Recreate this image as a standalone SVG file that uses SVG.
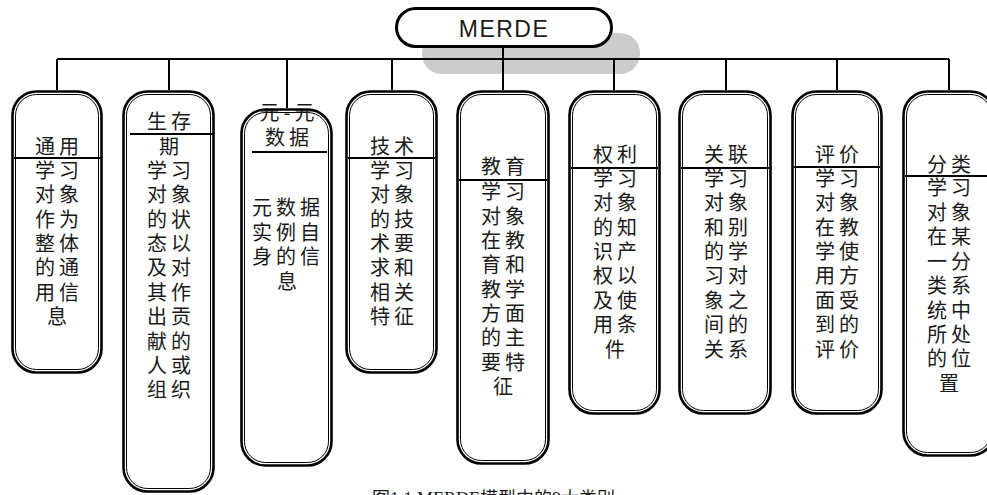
<svg xmlns="http://www.w3.org/2000/svg" width="987" height="495" viewBox="0 0 987 495">
<style>
.o{fill:#fff;stroke:#000;stroke-width:2.6}
.i{fill:none;stroke:#000;stroke-width:1}
.d{stroke:#000;stroke-width:2}
.c{stroke:#000;stroke-width:2;fill:none}
.t{font-family:"Noto Sans CJK SC","Noto Sans",sans-serif;font-size:20px;letter-spacing:4px;fill:#1a1a1a;text-anchor:middle}
</style>
<rect width="987" height="495" fill="#fff"/>
<g id="merde">
<rect x="422" y="33" width="218" height="41" rx="20" fill="#cccccc"/>
<rect x="396.5" y="8.5" width="215" height="38" rx="19" fill="#fff" stroke="#000" stroke-width="3"/>
<text x="504" y="37" font-family="Liberation Sans, Arial, sans-serif" font-size="23" letter-spacing="1.5" text-anchor="middle" fill="#1a1a1a">MERDE</text>
</g>
<g id="connectors" class="c">
<line x1="503" y1="46" x2="503" y2="90"/>
<line x1="57" y1="59" x2="949" y2="59"/>
<line x1="57" y1="59" x2="57" y2="90"/>
<line x1="169" y1="59" x2="169" y2="90"/>
<line x1="287" y1="59" x2="287" y2="108"/>
<line x1="392" y1="59" x2="392" y2="90"/>
<line x1="614" y1="59" x2="614" y2="90"/>
<line x1="726" y1="59" x2="726" y2="90"/>
<line x1="837" y1="59" x2="837" y2="90"/>
<line x1="949" y1="59" x2="949" y2="90"/>
</g>
<g id="box1">
<rect class="o" x="12.5" y="91.5" width="89" height="281" rx="24"/>
<rect class="i" x="15.5" y="94.5" width="83" height="275" rx="21"/>
<line class="d" x1="14" y1="158" x2="101" y2="158"/>
<text class="t" x="59" y="154">通用</text>
<text class="t" x="59" y="178">学习</text>
<text class="t" x="59" y="202">对象</text>
<text class="t" x="59" y="227">作为</text>
<text class="t" x="59" y="251">整体</text>
<text class="t" x="59" y="275">的通</text>
<text class="t" x="59" y="300">用信</text>
<text class="t" x="59" y="324">息</text>
</g>
<g id="box2">
<rect class="o" x="123.5" y="91.5" width="90" height="400" rx="24"/>
<rect class="i" x="126.5" y="94.5" width="84" height="394" rx="21"/>
<line class="d" x1="130" y1="134" x2="213" y2="134"/>
<text class="t" x="171" y="129">生存</text>
<text class="t" x="171" y="154">期</text>
<text class="t" x="171" y="178">学习</text>
<text class="t" x="171" y="202">对象</text>
<text class="t" x="171" y="227">的状</text>
<text class="t" x="171" y="251">态以</text>
<text class="t" x="171" y="275">及对</text>
<text class="t" x="171" y="300">其作</text>
<text class="t" x="171" y="324">出贡</text>
<text class="t" x="171" y="349">献的</text>
<text class="t" x="171" y="373">人或</text>
<text class="t" x="171" y="397">组织</text>
</g>
<g id="box3">
<rect class="o" x="241.5" y="109.5" width="90" height="356" rx="24"/>
<rect class="i" x="244.5" y="112.5" width="84" height="350" rx="21"/>
<line class="d" x1="252" y1="152" x2="327" y2="152"/>
<text class="t" x="289" y="120" letter-spacing="2">元-元</text>
<text class="t" x="289" y="145">数据</text>
<text class="t" x="288" y="215" letter-spacing="3">元数据</text>
<text class="t" x="288" y="240" letter-spacing="3">实例自</text>
<text class="t" x="288" y="264" letter-spacing="3">身的信</text>
<text class="t" x="289" y="289">息</text>
</g>
<g id="box4">
<rect class="o" x="346.5" y="91.5" width="90" height="281" rx="24"/>
<rect class="i" x="349.5" y="94.5" width="84" height="275" rx="21"/>
<line class="d" x1="348" y1="158" x2="435" y2="158"/>
<text class="t" x="394" y="154">技术</text>
<text class="t" x="394" y="178">学习</text>
<text class="t" x="394" y="202">对象</text>
<text class="t" x="394" y="227">的技</text>
<text class="t" x="394" y="251">术要</text>
<text class="t" x="394" y="275">求和</text>
<text class="t" x="394" y="300">相关</text>
<text class="t" x="394" y="324">特征</text>
</g>
<g id="box5">
<rect class="o" x="457.5" y="91.5" width="91" height="372" rx="24"/>
<rect class="i" x="460.5" y="94.5" width="85" height="366" rx="21"/>
<line class="d" x1="459" y1="180" x2="547" y2="180"/>
<text class="t" x="505" y="174">教育</text>
<text class="t" x="505" y="199">学习</text>
<text class="t" x="505" y="224">对象</text>
<text class="t" x="505" y="248">在教</text>
<text class="t" x="505" y="272">育和</text>
<text class="t" x="505" y="297">教学</text>
<text class="t" x="505" y="321">方面</text>
<text class="t" x="505" y="345">的主</text>
<text class="t" x="505" y="370">要特</text>
<text class="t" x="505" y="394">征</text>
</g>
<g id="box6">
<rect class="o" x="569.5" y="91.5" width="90" height="322" rx="24"/>
<rect class="i" x="572.5" y="94.5" width="84" height="316" rx="21"/>
<line class="d" x1="571" y1="168" x2="658" y2="168"/>
<text class="t" x="617" y="162">权利</text>
<text class="t" x="617" y="186">学习</text>
<text class="t" x="617" y="210">对象</text>
<text class="t" x="617" y="235">的知</text>
<text class="t" x="617" y="259">识产</text>
<text class="t" x="617" y="283">权以</text>
<text class="t" x="617" y="308">及使</text>
<text class="t" x="617" y="332">用条</text>
<text class="t" x="617" y="357">件</text>
</g>
<g id="box7">
<rect class="o" x="679.5" y="91.5" width="91" height="322" rx="24"/>
<rect class="i" x="682.5" y="94.5" width="85" height="316" rx="21"/>
<line class="d" x1="681" y1="168" x2="769" y2="168"/>
<text class="t" x="728" y="162">关联</text>
<text class="t" x="728" y="186">学习</text>
<text class="t" x="728" y="210">对象</text>
<text class="t" x="728" y="235">和别</text>
<text class="t" x="728" y="259">的学</text>
<text class="t" x="728" y="283">习对</text>
<text class="t" x="728" y="308">象之</text>
<text class="t" x="728" y="332">间的</text>
<text class="t" x="728" y="357">关系</text>
</g>
<g id="box8">
<rect class="o" x="792.5" y="91.5" width="89" height="322" rx="24"/>
<rect class="i" x="795.5" y="94.5" width="83" height="316" rx="21"/>
<line class="d" x1="794" y1="167" x2="880" y2="167"/>
<text class="t" x="839" y="162">评价</text>
<text class="t" x="839" y="186">学习</text>
<text class="t" x="839" y="210">对象</text>
<text class="t" x="839" y="235">在教</text>
<text class="t" x="839" y="259">学使</text>
<text class="t" x="839" y="283">用方</text>
<text class="t" x="839" y="308">面受</text>
<text class="t" x="839" y="332">到的</text>
<text class="t" x="839" y="357">评价</text>
</g>
<g id="box9">
<rect class="o" x="903.5" y="91.5" width="91" height="364" rx="24"/>
<rect class="i" x="906.5" y="94.5" width="85" height="358" rx="21"/>
<line class="d" x1="905" y1="176" x2="987" y2="176"/>
<text class="t" x="951" y="172">分类</text>
<text class="t" x="951" y="195">学习</text>
<text class="t" x="951" y="220">对象</text>
<text class="t" x="951" y="244">在某</text>
<text class="t" x="951" y="269">一分</text>
<text class="t" x="951" y="293">类系</text>
<text class="t" x="951" y="318">统中</text>
<text class="t" x="951" y="342">所处</text>
<text class="t" x="951" y="366">的位</text>
<text class="t" x="951" y="391">置</text>
</g>
<text x="372" y="505" font-family="Liberation Serif, 'Noto Sans CJK SC', serif" font-size="18" fill="#1a1a1a">图1.1 MERDE模型中的9大类别</text>
</svg>
